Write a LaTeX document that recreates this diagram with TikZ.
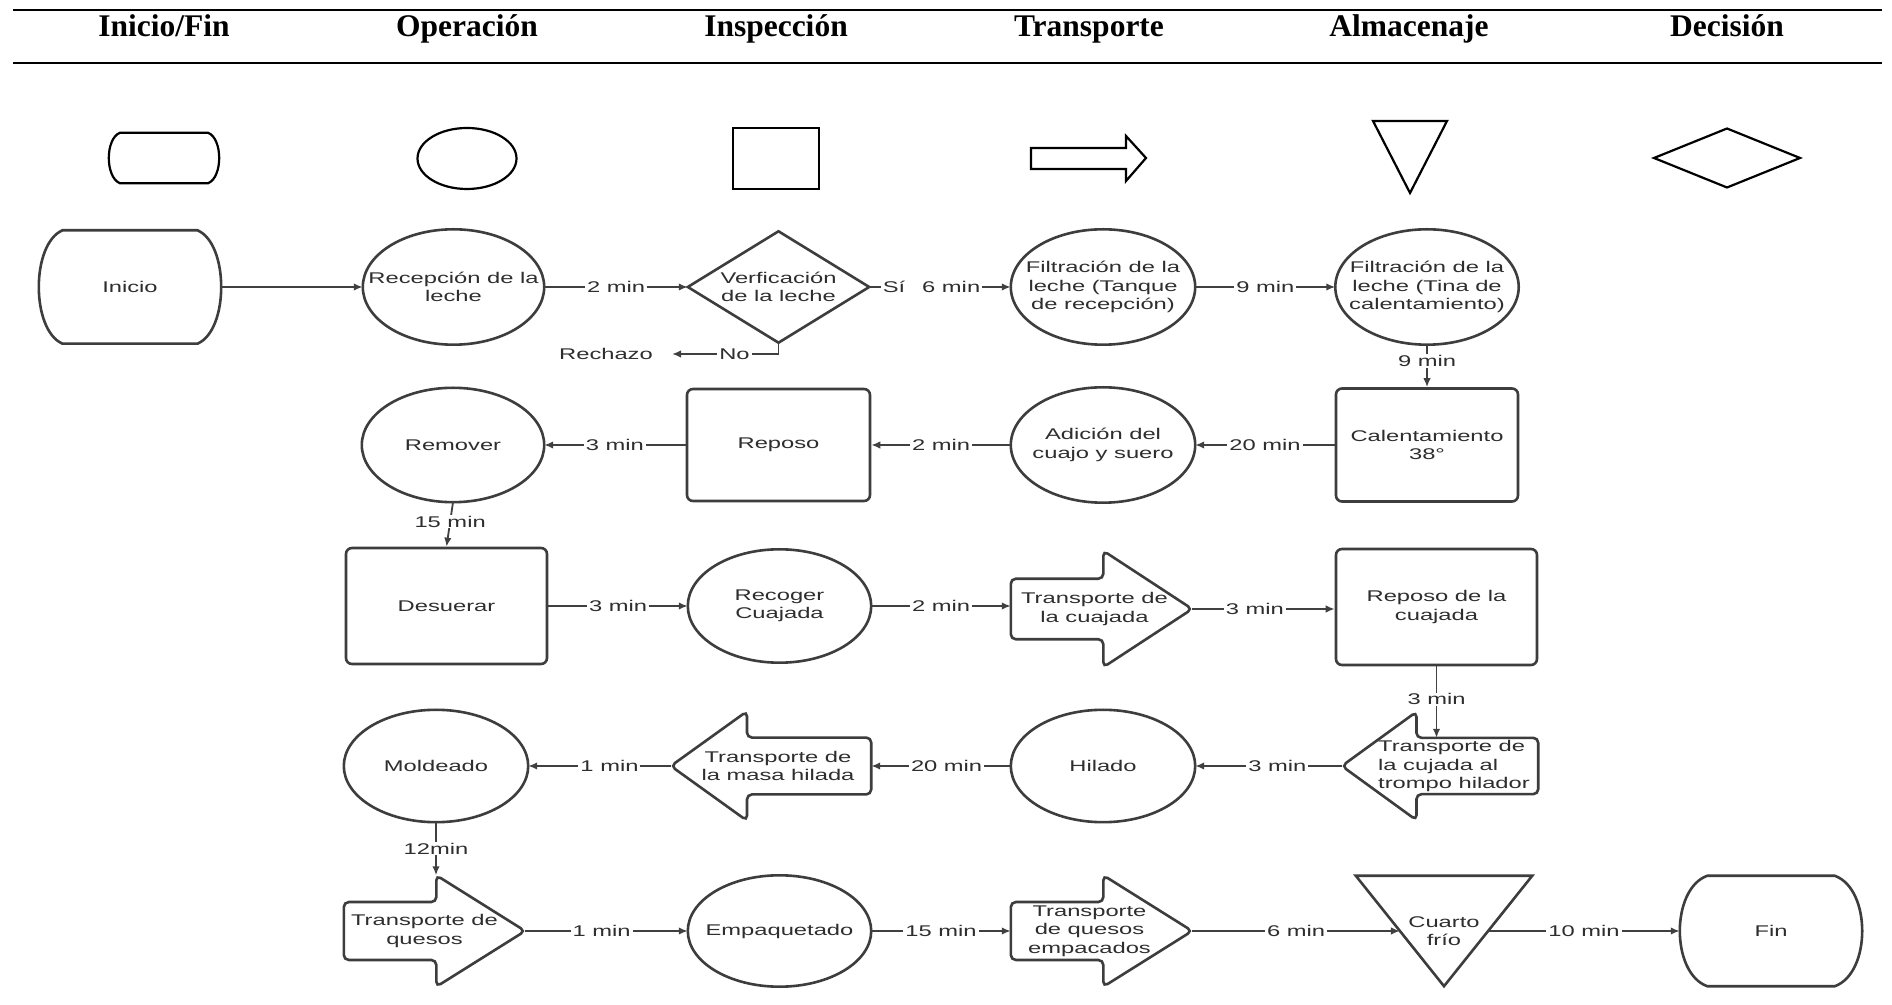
\documentclass[tikz,border=0pt]{standalone}
\usepackage{fontspec}
\usetikzlibrary{arrows.meta,calc}
\newfontfamily\flowfont[FakeStretch=1.53]{Liberation Sans}
\newfontfamily\headfont{Liberation Serif}

\tikzset{
  flowtxt/.style={font=\flowfont\fontsize{15.5}{18.5}\selectfont, text=black!82, align=center},
  sz/.style 2 args={minimum width=#1pt, minimum height=#2pt},
  shp/.style={draw=black!76, line width=2.6pt},
  blank/.style={flowtxt, inner sep=0pt},
  boxnode/.style={flowtxt, shp, rounded corners=6pt, inner sep=0pt},
  conn/.style={draw=black!75, line width=1.8pt, -{Latex[length=9pt,width=7.5pt]}},
  lbl/.style={flowtxt, fill=white, inner xsep=2pt, inner ysep=1pt},
  legend/.style={draw=black, line width=2.2pt},
  rule/.style={draw=black, line width=2.6pt},
  head/.style={font=\headfont\bfseries\fontsize{31.5}{36}\selectfont, anchor=base},
}

% outline helpers, drawn from the anchors of an invisible carrier node
\newcommand\drawellipse[1]{%
  \path[shp] let \p1=(#1.north east), \p2=(#1.center) in
    (\p2) ellipse [x radius={\x1-\x2}, y radius={\y1-\y2}];}
\newcommand\drawdiamond[1]{%
  \path[shp] (#1.north) -- (#1.east) -- (#1.south) -- (#1.west) -- cycle;}
\newcommand\drawtri[2]{%
  \path[#2] (#1.north west) -- (#1.north east) -- (#1.south) -- cycle;}
% terminator: flat top and bottom, bulging sides
\newcommand\drawterm[3]{%
  \path[#3] let \p1=(#1.north west), \p2=(#1.south east),
      \n1={#2*(\x2-\x1)}, \n2={0.12*(\y1-\y2)} in
    ({\x1+\n1},\y1) -- ({\x2-\n1},\y1)
    .. controls ({\x2+\n1/3},{\y1-\n2}) and ({\x2+\n1/3},{\y2+\n2}) .. ({\x2-\n1},\y2)
    -- ({\x1+\n1},\y2)
    .. controls ({\x1-\n1/3},{\y2+\n2}) and ({\x1-\n1/3},{\y1-\n2}) .. ({\x1+\n1},\y1)
    -- cycle;}
% block arrow pointing right: #2 = where the head starts, #3 = body height share
\newcommand\drawrarrow[3]{%
  \path[shp, rounded corners=5pt] let \p1=(#1.north west), \p2=(#1.south east),
      \n1={(\y1+\y2)/2}, \n2={\x1+#2*(\x2-\x1)}, \n3={#3*(\y1-\y2)/2} in
    (\x1,{\n1+\n3}) -- (\n2,{\n1+\n3}) -- (\n2,\y1) -- (\x2,\n1)
    -- (\n2,\y2) -- (\n2,{\n1-\n3}) -- (\x1,{\n1-\n3}) -- cycle;}
% block arrow pointing left: #2 = head length share, #3 = body height share
\newcommand\drawlarrow[3]{%
  \path[shp, rounded corners=5pt] let \p1=(#1.north west), \p2=(#1.south east),
      \n1={(\y1+\y2)/2}, \n2={\x1+#2*(\x2-\x1)}, \n3={#3*(\y1-\y2)/2} in
    (\x2,{\n1+\n3}) -- (\n2,{\n1+\n3}) -- (\n2,\y1) -- (\x1,\n1)
    -- (\n2,\y2) -- (\n2,{\n1-\n3}) -- (\x2,{\n1-\n3}) -- cycle;}

\begin{document}
\begin{tikzpicture}[x=1pt, y=1pt]
\fill[white] (0,0) rectangle (1892,1004);
\useasboundingbox (0,0) rectangle (1892,1004);

% ---- header table ----
\draw[rule] (13,994) -- (1882,994);
\draw[rule] (13,941) -- (1882,941);
\node[head] (hIni) at (164,967) {Inicio/Fin};
\node[head] (hOpe) at (467,967) {Operación};
\node[head] (hIns) at (776,967) {Inspección};
\node[head] (hTra) at (1089,967) {Transporte};
\node[head] (hAlm) at (1409,967) {Almacenaje};
\node[head] (hDec) at (1727,967) {Decisión};

% ---- symbol key ----
\node[blank, sz={110}{50}] (lgTerm) at (164,846) {};
\drawterm{lgTerm}{0.1}{legend}
\draw[legend] (467,845.5) ellipse [x radius=49.5, y radius=30.5];
\draw[legend] (733,815) rectangle (819,876);
\draw[legend] (1031,856) -- (1126,856) -- (1126,868) -- (1146,846) -- (1126,823)
  -- (1126,835) -- (1031,835) -- cycle;
\draw[legend] (1373,883) -- (1447,883) -- (1410,811) -- cycle;
\draw[legend] (1654,846) -- (1727,875.5) -- (1800,846) -- (1727,816.5) -- cycle;

% ---- process steps ----
% row 1
\node[blank, sz={182}{113}] (ini) at (130,717) {Inicio};
\node[blank, sz={181}{115}] (rec) at (453.5,717) {Recepción de la\\leche};
\node[blank, sz={181}{111}] (ver) at (778.5,717) {Verficación\\de la leche};
\node[blank, sz={184}{115}] (fil1) at (1103,717) {Filtración de la\\leche (Tanque\\de recepción)};
\node[blank, sz={183}{115}] (fil2) at (1427,717) {Filtración de la\\leche (Tina de\\calentamiento)};
\node[flowtxt, inner sep=3pt] (rech) at (606,650) {Rechazo};
% row 2
\node[boxnode, sz={182}{113}] (cal) at (1427,559) {Calentamiento\\38°};
\node[blank, sz={184}{115}] (adi) at (1103,559) {Adición del\\cuajo y suero};
\node[boxnode, sz={183}{112}] (rep) at (778.5,559) {Reposo};
\node[blank, sz={182}{114}] (rem) at (453,559) {Remover};
% row 3
\node[boxnode, sz={201}{116}] (des) at (446.5,398) {Desuerar};
\node[blank, sz={183}{113}] (recog) at (779.5,398) {Recoger\\Cuajada};
\node[blank, sz={181}{116},
  label={[flowtxt, xshift=-7pt]center:{Transporte de\\la cuajada}}] (tcua) at (1101.5,395) {};
\node[boxnode, sz={201}{116}] (repc) at (1436.5,397) {Reposo de la\\cuajada};
% row 4
\node[blank, sz={196}{108},
  label={[flowtxt, align=left, xshift=14pt]center:{Transporte de\\la cujada al\\trompo hilador}}] (ttrom) at (1440,238) {};
\node[blank, sz={184}{112}] (hil) at (1103,238) {Hilado};
\node[blank, sz={200}{109},
  label={[flowtxt, xshift=7pt]center:{Transporte de\\la masa hilada}}] (tmas) at (771,238) {};
\node[blank, sz={184}{112}] (mol) at (436,238) {Moldeado};
% row 5
\node[blank, sz={181}{111},
  label={[flowtxt, xshift=-10pt]center:{Transporte de\\quesos}}] (tque) at (434.5,73) {};
\node[blank, sz={183}{111}] (emp) at (779.5,73) {Empaquetado};
\node[blank, sz={181}{111},
  label={[flowtxt, xshift=-12pt]center:{Transporte\\de quesos\\empacados}}] (tqe) at (1101.5,73) {};
\node[blank, sz={176}{110}] (cfr) at (1444,73) {Cuarto\\frío};
\node[blank, sz={182}{110}] (fin) at (1771,73) {Fin};

% outlines
\drawterm{ini}{0.13}{shp}
\drawellipse{rec}
\drawdiamond{ver}
\drawellipse{fil1}
\drawellipse{fil2}
\drawellipse{adi}
\drawellipse{rem}
\drawellipse{recog}
\drawrarrow{tcua}{0.51}{0.52}
\drawlarrow{ttrom}{0.38}{0.52}
\drawellipse{hil}
\drawlarrow{tmas}{0.38}{0.52}
\drawellipse{mol}
\drawrarrow{tque}{0.51}{0.52}
\drawellipse{emp}
\drawrarrow{tqe}{0.51}{0.52}
\drawtri{cfr}{shp}
\drawterm{fin}{0.15}{shp}

% connection points on the odd shapes
\coordinate (ttromTop) at ($(ttrom.center)!0.52!(ttrom.north)$);
\coordinate (cfrL) at ($(cfr.north west)!0.5!(cfr.south)$);
\coordinate (cfrR) at ($(cfr.north east)!0.5!(cfr.south)$);

% ---- flow ----
\draw[conn] (ini.east) -- (rec.west);
\draw[conn] (rec.east) -- node[lbl]{2 min} (ver.west);
\draw[conn] (ver.east) -- node[lbl, pos=0.44]{Sí\hspace{17pt}6 min} (fil1.west);
\draw[conn, shorten >=16pt] (ver.south) |- node[lbl, pos=0.68]{No} (rech.east);
\draw[conn] (fil1.east) -- node[lbl]{9 min} (fil2.west);
\draw[conn] (fil2.south) -- node[lbl, pos=0.38]{9 min} (cal.north);
\draw[conn] (cal.west) -- node[lbl]{20 min} (adi.east);
\draw[conn] (adi.west) -- node[lbl]{2 min} (rep.east);
\draw[conn] (rep.west) -- node[lbl]{3 min} (rem.east);
\draw[conn] (rem.south) -- node[lbl, pos=0.44]{15 min} (des.north);
\draw[conn] (des.east) -- node[lbl]{3 min} (recog.west);
\draw[conn] (recog.east) -- node[lbl]{2 min} (recog.east -| tcua.west);
\draw[conn] (tcua.east) -- node[lbl, pos=0.44]{3 min} (tcua.east -| repc.west);
\draw[conn] (repc.south) -- node[lbl, pos=0.46]{3 min} (repc.south |- ttromTop);
\draw[conn] (ttrom.west) -- node[lbl, pos=0.44]{3 min} (hil.east);
\draw[conn] (hil.west) -- node[lbl, pos=0.46]{20 min} (tmas.east);
\draw[conn] (tmas.west) -- node[lbl, pos=0.43]{1 min} (mol.east);
\draw[conn] (mol.south) -- node[lbl]{12min} (mol.south |- tque.north);
\draw[conn] (tque.east) -- node[lbl, pos=0.47]{1 min} (emp.west);
\draw[conn] (emp.east) -- node[lbl]{15 min} (tqe.west);
\draw[conn] (tqe.east) -- node[lbl]{6 min} (cfrL);
\draw[conn] (cfrR) -- node[lbl]{10 min} (fin.west);
\end{tikzpicture}
\end{document}
